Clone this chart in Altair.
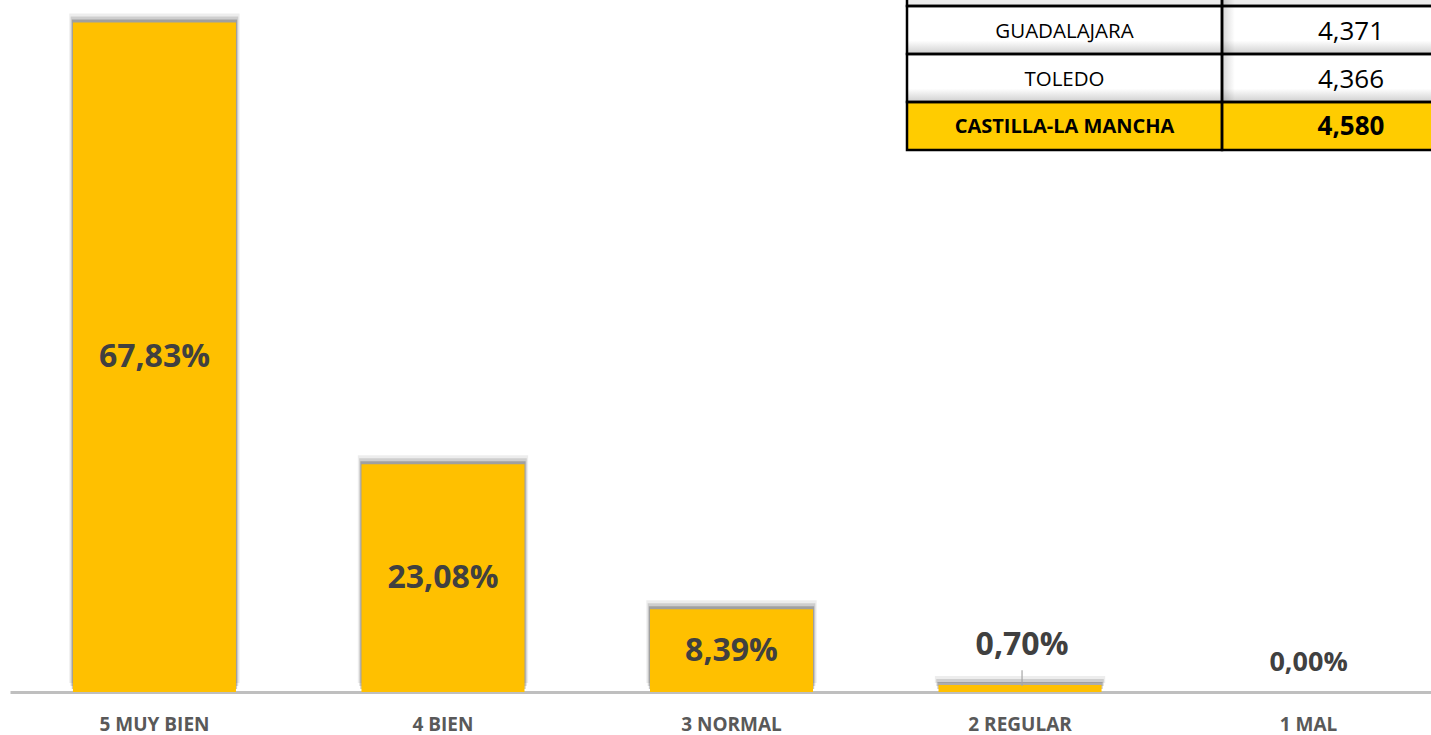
import altair as alt
import pandas as pd

# ---- data ----
categories = ["5 MUY BIEN", "4 BIEN", "3 NORMAL", "2 REGULAR", "1 MAL"]
percentages = [67.83, 23.08, 8.39, 0.70, 0.00]

table_names = ["", "GUADALAJARA", "TOLEDO", "CASTILLA-LA MANCHA"]
table_values = [None, 4.371, 4.366, 4.580]

FONT = "Open Sans"

bars_df = pd.DataFrame({"cat": categories, "v": percentages})
bars_df["label"] = [f"{p:.2f}".replace(".", ",") + "%" for p in percentages]

rows = []
for r, (n, val) in enumerate(zip(table_names, table_values)):
    vtxt = "" if val is None else f"{val:.3f}".replace(".", ",")
    rows.append({"r": r, "c": 0, "txt": n})
    rows.append({"r": r, "c": 1, "txt": vtxt})
tbl_df = pd.DataFrame(rows)
last_row = len(table_names) - 1

# ---- bar chart ----
x_enc = alt.X(
    "cat:N",
    sort=categories,
    scale=alt.Scale(paddingInner=0.435, paddingOuter=0.18, align=0.606),
    axis=alt.Axis(
        title=None, labelAngle=0, ticks=False, grid=False,
        domainColor="#BFBFBF", domainWidth=3,
        labelFont=FONT, labelFontWeight="bold", labelFontSize=19,
        labelColor="#595959", labelPadding=23,
    ),
)
y_scale = alt.Scale(domain=[0, 70.1], nice=False, zero=True)

base = alt.Chart(bars_df)

shadows = [
    base.mark_bar(color="#000000", opacity=o, yOffset=yo,
                  width=alt.RelativeBandSize(band=bw)).encode(
        x=x_enc, y=alt.Y("v:Q", scale=y_scale, axis=None))
    for o, yo, bw in [(0.07, -9, 1.045), (0.13, -6, 1.028), (0.22, -3, 1.014)]
]

bars = base.mark_bar(color="#FFC000").encode(
    x=x_enc, y=alt.Y("v:Q", scale=y_scale, axis=None))

inside = base.transform_filter("datum.v >= 5").transform_calculate(
    ypos="datum.v / 2").mark_text(
    font=FONT, fontWeight="bold", fontSize=32, color="#404040",
    baseline="middle").encode(x=x_enc, y=alt.Y("ypos:Q", scale=y_scale, axis=None),
                              text="label:N")

small = base.transform_filter("datum.v > 0 && datum.v < 5").transform_calculate(
    ypos="datum.v + 4.1").mark_text(
    font=FONT, fontWeight="bold", fontSize=32, color="#404040",
    baseline="middle", xOffset=2).encode(
    x=x_enc, y=alt.Y("ypos:Q", scale=y_scale, axis=None), text="label:N")

zero = base.transform_filter("datum.v == 0").transform_calculate(
    ypos="datum.v + 2.9").mark_text(
    font=FONT, fontWeight="bold", fontSize=27, color="#404040",
    baseline="middle").encode(
    x=x_enc, y=alt.Y("ypos:Q", scale=y_scale, axis=None), text="label:N")

leader = base.transform_filter("datum.v > 0 && datum.v < 5").transform_calculate(
    y_lo="datum.v - 0.1", y_hi="datum.v + 1.5").mark_rule(
    color="#A6A6A6", strokeWidth=1.2, xOffset=2).encode(
    x=x_enc, y=alt.Y("y_lo:Q", scale=y_scale, axis=None), y2="y_hi:Q")

bar_layer = alt.layer(*shadows, bars, leader, inside, small, zero)

# ---- table ----
tx = alt.Scale(domain=[0, 1, 2], range=[897, 1212, 1470], nice=False, zero=False)
ty = alt.Scale(domain=[0, 4], range=[-42, 150], nice=False, zero=False)

tbase = alt.Chart(tbl_df).transform_calculate(
    x0="datum.c", x1="datum.c + 1", y0="datum.r", y1="datum.r + 1",
    xm="datum.c + 0.5", ym="datum.r + 0.5")

cell_enc = dict(
    x=alt.X("x0:Q", scale=tx, axis=None), x2="x1:Q",
    y=alt.Y("y0:Q", scale=ty, axis=None), y2="y1:Q",
)

white_grad = alt.LinearGradient(
    gradient="linear", x1=0, x2=0, y1=0, y2=1,
    stops=[alt.GradientStop(offset=0, color="#FFFFFF"),
           alt.GradientStop(offset=0.72, color="#FFFFFF"),
           alt.GradientStop(offset=1, color="#CFCFCF")])
side_grad = alt.LinearGradient(
    gradient="linear", x1=0, x2=1, y1=0, y2=0,
    stops=[alt.GradientStop(offset=0, color="rgba(0,0,0,0.16)"),
           alt.GradientStop(offset=0.05, color="rgba(0,0,0,0)"),
           alt.GradientStop(offset=1, color="rgba(0,0,0,0)")])

gray_cells = tbase.transform_filter("datum.r == 0").mark_rect(color="#EDEDED").encode(**cell_enc)
white_cells = tbase.transform_filter(f"datum.r > 0 && datum.r < {last_row}").mark_rect(
    color=white_grad).encode(**cell_enc)
yellow_cells = tbase.transform_filter(f"datum.r == {last_row}").mark_rect(
    color="#FFCC00").encode(**cell_enc)
side_shade = tbase.transform_filter(f"datum.c == 1 && datum.r < {last_row}").mark_rect(
    color=side_grad).encode(**cell_enc)
borders = tbase.mark_rect(fillOpacity=0, stroke="#000000", strokeWidth=2.5).encode(**cell_enc)

txt_enc = dict(x=alt.X("xm:Q", scale=tx, axis=None),
               y=alt.Y("ym:Q", scale=ty, axis=None), text="txt:N")
names = tbase.transform_filter(f"datum.c == 0 && datum.r < {last_row}").mark_text(
    font=FONT, fontSize=20.5, color="#000000", baseline="middle", dy=2).encode(**txt_enc)
vals = tbase.transform_filter(f"datum.c == 1 && datum.r < {last_row}").mark_text(
    font=FONT, fontSize=26, color="#000000", baseline="middle", dy=2).encode(**txt_enc)
tot_name = tbase.transform_filter(f"datum.c == 0 && datum.r == {last_row}").mark_text(
    font=FONT, fontSize=20, fontWeight="bold", color="#000000", baseline="middle",
    dy=1).encode(**txt_enc)
tot_val = tbase.transform_filter(f"datum.c == 1 && datum.r == {last_row}").mark_text(
    font=FONT, fontSize=26, fontWeight="bold", color="#000000", baseline="middle",
    dy=1).encode(**txt_enc)

table_layer = alt.layer(gray_cells, white_cells, yellow_cells, side_shade, borders,
                        names, vals, tot_name, tot_val)

chart = alt.layer(bar_layer, table_layer).resolve_scale(
    x="independent", y="independent"
).properties(
    width=1421, height=692,
    padding={"left": 10, "top": 0, "right": 0, "bottom": 43},
    autosize="none", background="#FFFFFF",
).configure_view(stroke=None)

chart.save("out.html", embed_options={"renderer": "svg", "actions": False})
